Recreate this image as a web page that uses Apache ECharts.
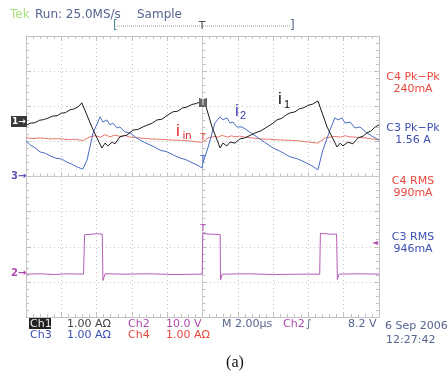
<!DOCTYPE html>
<html>
<head>
<meta charset="utf-8">
<script src="https://cdn.jsdelivr.net/npm/echarts@6/dist/echarts.min.js"></script>
<style>
  html, body { margin: 0; padding: 0; background: #fff; }
  #chart { width: 448px; height: 379px; }
</style>
</head>
<body>
<div id="chart"></div>
<script>
// traces in screen divisions: x -5..5 (10 div), y -4..4 (8 div), origin at graticule centre
const i1Trace = [
  [-5.0, 1.45], [-4.88, 1.52], [-4.75, 1.53], [-4.62, 1.6], [-4.5, 1.62], [-4.38, 1.66],
  [-4.25, 1.72], [-4.12, 1.73], [-4.0, 1.8], [-3.88, 1.82], [-3.75, 1.9], [-3.62, 1.93],
  [-3.5, 2.0], [-3.42, 2.1], [-3.39, 2.15],
  [-3.1, 1.33], [-2.85, 0.81], [-2.76, 0.95], [-2.68, 0.87], [-2.56, 0.98], [-2.48, 0.93],
  [-2.34, 1.13], [-2.14, 1.18], [-1.97, 1.32], [-1.83, 1.34], [-1.69, 1.41], [-1.55, 1.47],
  [-1.42, 1.52], [-1.29, 1.61], [-1.15, 1.63], [-1.0, 1.74], [-0.84, 1.84], [-0.7, 1.86],
  [-0.57, 1.95], [-0.44, 1.98], [-0.3, 2.05], [-0.17, 2.08], [-0.07, 2.12], [0.01, 2.15],
  [0.07, 2.09], [0.27, 1.41], [0.5, 0.81],
  [0.58, 0.95], [0.69, 0.87], [0.78, 0.98], [0.92, 0.95], [1.06, 1.07], [1.2, 1.1],
  [1.35, 1.17], [1.49, 1.24], [1.65, 1.3], [1.83, 1.41], [1.97, 1.5], [2.11, 1.61],
  [2.25, 1.66], [2.38, 1.76], [2.48, 1.81], [2.62, 1.84], [2.75, 1.93], [2.85, 1.95],
  [3.0, 2.03], [3.12, 2.06], [3.27, 2.15],
  [3.53, 1.41], [3.81, 0.84], [3.9, 0.95], [3.98, 0.87], [4.12, 0.98], [4.26, 0.93],
  [4.41, 1.1], [4.55, 1.15], [4.66, 1.24], [4.78, 1.3], [4.89, 1.41], [5.0, 1.47]
];
const i2Trace = [
  [-5.0, 1.01], [-4.88, 0.9], [-4.75, 0.82], [-4.6, 0.7], [-4.45, 0.66], [-4.3, 0.58],
  [-4.15, 0.52], [-4.0, 0.5], [-3.84, 0.41], [-3.7, 0.35], [-3.55, 0.27], [-3.47, 0.24],
  [-3.39, 0.21],
  [-3.27, 0.47], [-3.1, 1.24], [-2.9, 1.7], [-2.82, 1.55], [-2.71, 1.61], [-2.62, 1.47],
  [-2.54, 1.52], [-2.42, 1.38], [-2.34, 1.41], [-2.2, 1.27], [-2.05, 1.24], [-1.9, 1.12],
  [-1.77, 1.04], [-1.6, 0.95], [-1.4, 0.86], [-1.2, 0.75], [-1.0, 0.7], [-0.8, 0.6],
  [-0.64, 0.53], [-0.45, 0.47], [-0.27, 0.38], [-0.1, 0.3], [-0.01, 0.24],
  [0.01, 0.38], [0.16, 0.84], [0.35, 1.52], [0.5, 1.7], [0.58, 1.61], [0.69, 1.67],
  [0.78, 1.52], [0.86, 1.55], [0.98, 1.41], [1.12, 1.41], [1.26, 1.32], [1.4, 1.22],
  [1.54, 1.13], [1.75, 0.98], [2.0, 0.81], [2.2, 0.72], [2.48, 0.56], [2.7, 0.5],
  [2.96, 0.38], [3.15, 0.27], [3.27, 0.19],
  [3.41, 0.75], [3.61, 1.32], [3.75, 1.67], [3.84, 1.61], [3.95, 1.67], [4.04, 1.52],
  [4.18, 1.55], [4.32, 1.38], [4.46, 1.41], [4.66, 1.24], [4.83, 1.13], [5.0, 1.04]
];
const iinTrace = [
  [-5.0, 1.1], [-4.8, 1.08], [-4.6, 1.1], [-4.32, 1.07], [-4.1, 1.08], [-3.8, 1.05],
  [-3.6, 1.06], [-3.39, 1.02], [-3.19, 1.13], [-3.05, 1.16], [-2.9, 1.12], [-2.76, 1.19],
  [-2.62, 1.13], [-2.48, 1.18], [-2.34, 1.14], [-2.2, 1.17], [-2.05, 1.12], [-1.8, 1.1],
  [-1.49, 1.07], [-1.2, 1.06], [-0.92, 1.04], [-0.6, 1.03], [-0.35, 1.01], [-0.01, 0.97],
  [0.16, 1.1], [0.35, 1.14], [0.45, 1.12], [0.55, 1.17], [0.72, 1.12], [0.82, 1.16],
  [0.92, 1.13], [1.05, 1.15], [1.2, 1.12], [1.4, 1.1], [1.63, 1.07], [1.9, 1.06],
  [2.2, 1.04], [2.5, 1.03], [2.76, 1.01], [3.0, 0.98], [3.27, 0.95], [3.47, 1.1],
  [3.62, 1.12], [3.75, 1.14], [3.9, 1.12], [4.04, 1.16], [4.18, 1.13], [4.32, 1.12],
  [4.6, 1.1], [4.8, 1.07], [5.0, 1.04]
];
const ch2Trace = [
  [-5.0, -2.78], [-4.6, -2.77], [-4.2, -2.79], [-3.8, -2.77], [-3.37, -2.78], [-3.34, -1.66],
  [-3.0, -1.63], [-2.84, -1.64], [-2.82, -2.96], [-2.76, -2.77], [-2.2, -2.78], [-1.5, -2.77],
  [-0.8, -2.79], [-0.01, -2.78], [0.01, -1.62], [0.2, -1.64], [0.5, -1.65], [0.51, -2.95],
  [0.56, -2.78], [1.3, -2.77], [2.0, -2.79], [2.8, -2.78], [3.32, -2.78], [3.34, -1.62],
  [3.6, -1.64], [3.8, -1.64], [3.82, -2.93], [3.87, -2.78], [4.4, -2.77], [5.0, -2.78]
];
const xRange = [-5, 5];
const yRange = [-4, 4];

const chart = echarts.init(document.getElementById('chart'));
const gridColor = '#c2c2c2';

function scopeAxis(range, position, onZero, splitShow) {
  return {
    type: 'value', min: range[0], max: range[1], interval: 1, position: position,
    axisLine: { show: true, onZero: onZero, lineStyle: { color: gridColor, width: 1, type: onZero ? 'dotted' : 'solid' } },
    axisTick: { show: true, inside: true, length: 4, lineStyle: { color: gridColor } },
    minorTick: { show: true, splitNumber: 5, length: 3, lineStyle: { color: gridColor } },
    axisLabel: { show: false },
    splitLine: { show: splitShow, lineStyle: { color: gridColor, type: [1, 3] } }
  };
}

function txt(x, y, text, color, size, align, family, weight) {
  return {
    type: 'text', x: x, y: y, z: 100,
    style: {
      text: text, fill: color,
      font: (weight || 'normal') + ' ' + size + 'px ' + (family || '"DejaVu Sans"'),
      align: align || 'left', textAlign: align || 'left',
      verticalAlign: 'middle', textVerticalAlign: 'middle'
    }
  };
}

const blueTxt = '#3c4fb4', redTxt = '#e8483c', pinkTxt = '#b048b0', slate = '#56648f';

const option = {
  animation: false,
  grid: { left: 26, top: 36, width: 353, height: 281, show: false },
  xAxis: [scopeAxis(xRange, 'bottom', true, true), scopeAxis(xRange, 'top', false, false), scopeAxis(xRange, 'bottom', false, false)],
  yAxis: [scopeAxis(yRange, 'left', true, true), scopeAxis(yRange, 'left', false, false), scopeAxis(yRange, 'right', false, false)],
  series: [
    { type: 'line', data: iinTrace, showSymbol: false, lineStyle: { color: '#e8786a', width: 1 } },
    { type: 'line', data: i2Trace, showSymbol: false, lineStyle: { color: '#4a6cc4', width: 1 } },
    { type: 'line', data: i1Trace, showSymbol: false, lineStyle: { color: '#1a1a1a', width: 1 } },
    { type: 'line', data: ch2Trace, showSymbol: false, lineStyle: { color: '#b45ab4', width: 1 } }
  ],
  graphic: [
    // header
    txt(10, 15, 'Tek', '#a8e07c', 12),
    txt(35, 15, 'Run: 25.0MS/s', slate, 12),
    txt(137, 15, 'Sample', slate, 12),
    { type: 'line', z: 100, shape: { x1: 117, y1: 26, x2: 290, y2: 26 }, style: { stroke: '#999', lineWidth: 1, lineDash: [1, 1] } },
    txt(113, 26, '[', '#4a8a9a', 12),
    txt(290, 26, ']', slate, 12),
    txt(202, 26, 'T', '#555', 11, 'center'),
    // channel markers
    { type: 'rect', z: 100, shape: { x: 11, y: 116, width: 16, height: 11 }, style: { fill: '#3a3a3a' } },
    txt(19, 121.5, '1\u2192', '#fff', 9, 'center', null, 'bold'),
    txt(11, 176, '3\u2192', '#6a50b8', 10, 'left', null, 'bold'),
    txt(11, 273, '2\u2192', pinkTxt, 10, 'left', null, 'bold'),
    txt(375, 243, '\u25C4', pinkTxt, 8, 'center'),
    { type: 'rect', z: 100, shape: { x: 199, y: 98, width: 8, height: 9 }, style: { fill: '#666' } },
    txt(203, 102.5, 'T', '#fff', 8, 'center'),
    txt(203, 138, 'T', redTxt, 9, 'center'),
    txt(203, 160, 'T', '#3c5fc4', 9, 'center'),
    txt(203, 229, 'T', pinkTxt, 9, 'center'),
    // trace labels
    txt(280, 99, 'i', '#111', 17, 'center', '"Liberation Sans"'),
    txt(287, 105, '1', '#111', 11, 'center', '"Liberation Sans"'),
    txt(237, 111, 'i', '#3c3cb0', 17, 'center', '"Liberation Sans"'),
    txt(243, 116, '2', '#3c3cb0', 11, 'center', '"Liberation Sans"'),
    txt(178, 131, 'i', '#e02828', 17, 'center', '"Liberation Sans"'),
    txt(187, 136, 'in', '#e02828', 11, 'center', '"Liberation Sans"'),
    // measurements
    txt(413, 77, 'C4 Pk\u2212Pk', redTxt, 11, 'center'),
    txt(413, 89, '240mA', redTxt, 11, 'center'),
    txt(413, 128, 'C3 Pk\u2212Pk', blueTxt, 11, 'center'),
    txt(413, 140, '1.56 A', blueTxt, 11, 'center'),
    txt(413, 181, 'C4 RMS', redTxt, 11, 'center'),
    txt(413, 193, '990mA', redTxt, 11, 'center'),
    txt(413, 237, 'C3 RMS', blueTxt, 11, 'center'),
    txt(413, 249, '946mA', blueTxt, 11, 'center'),
    // footer
    { type: 'rect', z: 100, shape: { x: 29, y: 318, width: 22, height: 11 }, style: { fill: '#222' } },
    txt(30, 324, 'Ch1', '#e8e8e8', 11),
    txt(67, 324, '1.00 A\u03A9', '#444', 11),
    txt(128, 324, 'Ch2', pinkTxt, 11),
    txt(166, 324, '10.0 V', pinkTxt, 11),
    txt(222, 324, 'M 2.00\u00B5s', slate, 11),
    txt(283, 324, 'Ch2', pinkTxt, 11),
    txt(306, 324, '\u222B', slate, 11),
    txt(348, 324, '8.2 V', slate, 11),
    txt(30, 335, 'Ch3', blueTxt, 11),
    txt(67, 335, '1.00 A\u03A9', blueTxt, 11),
    txt(128, 335, 'Ch4', redTxt, 11),
    txt(166, 335, '1.00 A\u03A9', redTxt, 11),
    txt(385, 326, '6 Sep 2006', slate, 11),
    txt(386, 340, '12:27:42', slate, 11),
    txt(235, 363, '(a)', '#111', 16, 'center', '"Liberation Serif"')
  ]
};
chart.setOption(option);
</script>
</body>
</html>
